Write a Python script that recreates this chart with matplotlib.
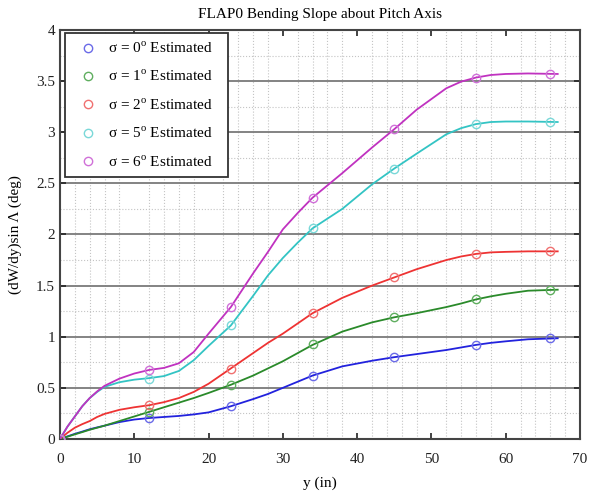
import matplotlib
matplotlib.use('Agg')
import matplotlib.pyplot as plt
from matplotlib.ticker import MultipleLocator, FormatStrFormatter

plt.rcParams['font.family'] = ['Liberation Serif', 'DejaVu Serif']
plt.rcParams['mathtext.fontset'] = 'custom'
plt.rcParams['mathtext.rm'] = 'Liberation Serif'

# fitted curves
xc = [0, 1, 2, 3, 4, 5, 6, 8, 10, 12, 14, 16, 18, 20, 23, 26, 28, 30, 32, 34, 38, 42, 45, 48, 52, 54, 56, 58, 60, 63, 67]
c0 = [0, 0.025, 0.05, 0.072, 0.095, 0.113, 0.13, 0.165, 0.19, 0.205, 0.215, 0.225, 0.24, 0.26, 0.32, 0.39, 0.44, 0.50, 0.56, 0.62, 0.71, 0.765, 0.80, 0.83, 0.87, 0.895, 0.92, 0.94, 0.955, 0.975, 0.985]
c1 = [0, 0.022, 0.045, 0.067, 0.09, 0.11, 0.13, 0.175, 0.22, 0.265, 0.31, 0.355, 0.40, 0.45, 0.53, 0.62, 0.69, 0.76, 0.84, 0.92, 1.05, 1.14, 1.19, 1.23, 1.29, 1.325, 1.365, 1.395, 1.42, 1.45, 1.46]
c2 = [0, 0.06, 0.11, 0.145, 0.175, 0.215, 0.245, 0.285, 0.31, 0.33, 0.36, 0.40, 0.46, 0.54, 0.69, 0.84, 0.94, 1.03, 1.13, 1.23, 1.38, 1.50, 1.58, 1.66, 1.75, 1.785, 1.81, 1.825, 1.83, 1.835, 1.835]
c5 = [0, 0.12, 0.22, 0.32, 0.40, 0.46, 0.51, 0.555, 0.58, 0.595, 0.615, 0.665, 0.77, 0.91, 1.11, 1.40, 1.60, 1.77, 1.92, 2.06, 2.25, 2.49, 2.645, 2.79, 2.98, 3.04, 3.08, 3.10, 3.105, 3.105, 3.10]
c6 = [0, 0.12, 0.22, 0.32, 0.40, 0.465, 0.52, 0.59, 0.64, 0.675, 0.695, 0.74, 0.85, 1.03, 1.29, 1.62, 1.83, 2.05, 2.21, 2.36, 2.60, 2.85, 3.03, 3.22, 3.43, 3.495, 3.535, 3.56, 3.57, 3.575, 3.57]

# estimated points
xm = [0, 12, 23, 34, 45, 56, 66]
m0 = [0, 0.205, 0.32, 0.62, 0.80, 0.92, 0.985]
m1 = [0, 0.265, 0.53, 0.925, 1.19, 1.365, 1.46]
m2 = [0, 0.33, 0.685, 1.23, 1.58, 1.81, 1.835]
m5 = [0, 0.59, 1.11, 2.06, 2.645, 3.08, 3.10]
m6 = [0, 0.675, 1.295, 2.36, 3.03, 3.535, 3.57]

sigmas = ['0', '1', '2', '5', '6']
line_cols = ['#2222dd', '#2a8a2a', '#ee3333', '#33c4c4', '#c032c0']
mark_cols = ['#6a6ae8', '#5fae5f', '#f07070', '#7ad8d8', '#d070d8']

fig = plt.figure(figsize=(5.98, 4.96), dpi=100)
ax = fig.add_axes([0.1003, 0.115, 0.8696, 0.8245])

curves = [c0, c1, c2, c5, c6]
marks = [m0, m1, m2, m5, m6]
for s, c, m, lc, mc in zip(sigmas, curves, marks, line_cols, mark_cols):
    ax.plot(xc, c, '-', color=lc, lw=1.3, zorder=3)
    ax.plot(xm, m, 'o', mfc='none', mec=mc, ms=6, mew=1.0, zorder=4,
            label='σ = ' + s + '$^{\\rm o}$ Estimated\u00a0\u00a0\u00a0')

ax.set_xlim(0, 70)
ax.set_ylim(0, 4)
ax.xaxis.set_major_locator(MultipleLocator(10))
ax.yaxis.set_major_locator(MultipleLocator(0.5))
ax.xaxis.set_minor_locator(MultipleLocator(2))
ax.yaxis.set_minor_locator(MultipleLocator(0.25))
ax.yaxis.set_major_formatter(FormatStrFormatter('%g'))

ax.grid(axis='y', which='major', color='#7a7a7a', lw=1.3, ls='-')
ax.grid(which='minor', color='#c4c4c4', lw=0.8, ls=':')
ax.set_axisbelow(True)

ax.tick_params(which='major', direction='in', length=4, width=1.2, top=True, right=True,
               labelsize=11, colors='#222222')
ax.tick_params(axis='x', which='major', pad=10)
ax.tick_params(which='minor', length=0)
for sp in ax.spines.values():
    sp.set_color('#444444')
    sp.set_linewidth(1.5)

ax.set_xlabel('y (in)', fontsize=11, labelpad=8)
ax.set_ylabel('(dW/dy)sin Λ (deg)', fontsize=11, labelpad=10)
ax.set_title('FLAP0 Bending Slope about Pitch Axis', fontsize=11, pad=9)

leg = ax.legend(loc='upper left', bbox_to_anchor=(0.01, 0.993), borderaxespad=0,
                fontsize=11, labelspacing=0.85, handletextpad=0.3, borderpad=0.5,
                handlelength=2.0, fancybox=False, framealpha=1, edgecolor='#333333')
leg.get_frame().set_linewidth(1.3)

fig.savefig('out.png', dpi=100)
